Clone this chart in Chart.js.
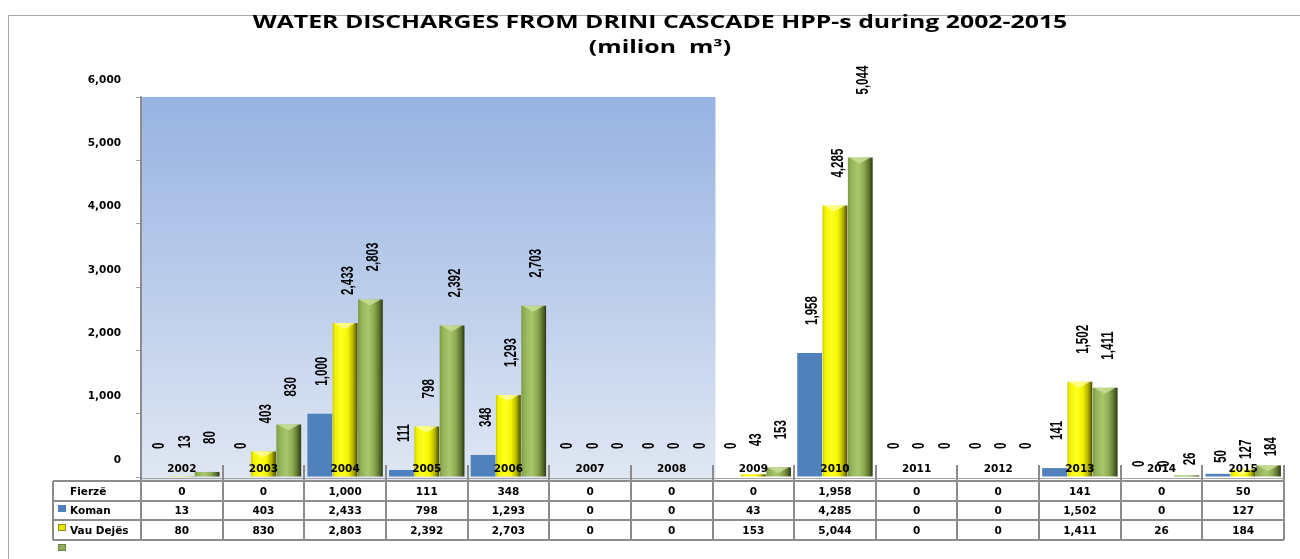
<!DOCTYPE html>
<html>
<head>
<meta charset="utf-8">
<script src="https://cdn.jsdelivr.net/npm/chart.js@4.4.1/dist/chart.umd.min.js"></script>
<style>
  html, body { margin: 0; padding: 0; background: #ffffff; }
  #c { display: block; }
</style>
</head>
<body>
<canvas id="c" width="1300" height="559"></canvas>
<script>
// ---------------- DATA ----------------
const years = ['2002','2003','2004','2005','2006','2007','2008','2009','2010','2011','2012','2013','2014','2015'];
const seriesNames = ['Fierzë', 'Koman', 'Vau Dejës'];
const fierze   = [0, 0, 1000, 111, 348, 0, 0, 0, 1958, 0, 0, 141, 0, 50];
const koman    = [13, 403, 2433, 798, 1293, 0, 0, 43, 4285, 0, 0, 1502, 0, 127];
const vauDejes = [80, 830, 2803, 2392, 2703, 0, 0, 153, 5044, 0, 0, 1411, 26, 184];
const yTicks   = [0, 1000, 2000, 3000, 4000, 5000, 6000];
const titleLines = ['WATER DISCHARGES FROM DRINI CASCADE HPP-s during 2002-2015', '(milion  m\u00B3)'];

// ---------------- STYLE ----------------
const fmt = v => v.toLocaleString('en-US');
const AXIS_FONT = '"DejaVu Sans", Verdana, sans-serif';
const LABEL_FONT = '"Liberation Sans", Arial, sans-serif';
const TITLE_FONT = '"Open Sans", sans-serif';
const BLUE = '#4F81BD';
const gradStops = {
  1: [[0, '#c9c900'], [0.1, '#f2f200'], [0.35, '#ffff22'], [0.62, '#f4f400'], [0.82, '#b3b300'], [1, '#4a4a00']],
  2: [[0, '#7c9a45'], [0.15, '#95b55a'], [0.4, '#a9c76d'], [0.65, '#8eab52'], [0.85, '#5d7430'], [1, '#2c3913']]
};
const capColors = { 1: 'rgba(255,255,170,0.75)', 2: 'rgba(200,222,150,0.85)' };
// manual label nudges (dataset,index) as in the original
const labelShift = { '2,8': -35, '0,12': 18, '1,12': 18, '2,12': 18, '0,13': 17, '1,13': 18, '2,13': 19 };

const backgroundPlugin = {
  id: 'bgFrame',
  beforeDraw(chart) {
    const ctx = chart.ctx, a = chart.chartArea;
    ctx.save();
    ctx.fillStyle = '#ffffff';
    ctx.fillRect(0, 0, chart.width, chart.height);
    // outer frame
    ctx.strokeStyle = '#a6a6a6';
    ctx.lineWidth = 1;
    ctx.beginPath();
    ctx.moveTo(8.5, chart.height);
    ctx.lineTo(8.5, 15.5);
    ctx.lineTo(chart.width, 15.5);
    ctx.stroke();
    // back-wall gradient (covers 2002-2008)
    const step = (a.right - a.left) / years.length;
    const xEnd = a.left + step * 7 + 3;
    const g = ctx.createLinearGradient(0, a.top, 0, a.bottom + 3);
    g.addColorStop(0, '#97b3e2');
    g.addColorStop(1, '#e0e7f3');
    ctx.fillStyle = g;
    ctx.fillRect(a.left, a.top, xEnd - a.left, a.bottom + 3 - a.top);
    // title (horizontally stretched like the original)
    ctx.fillStyle = '#000';
    ctx.font = 'bold 17px ' + TITLE_FONT;
    ctx.textAlign = 'center';
    ctx.textBaseline = 'middle';
    titleLines.forEach((t, i) => {
      ctx.save();
      ctx.translate(chart.width / 2 + 10, 23 + i * 25);
      ctx.scale(1.46, 1);
      ctx.fillText(t, 0, 0);
      ctx.restore();
    });
    ctx.restore();
  }
};

const barStylePlugin = {
  id: 'barStyle',
  beforeDatasetsDraw(chart) {
    const ctx = chart.ctx;
    chart.data.datasets.forEach((ds, di) => {
      const stops = gradStops[di];
      if (!stops) return;
      chart.getDatasetMeta(di).data.forEach(el => {
        const x0 = el.x - el.width / 2, x1 = el.x + el.width / 2;
        const g = ctx.createLinearGradient(x0, 0, x1, 0);
        stops.forEach(([p, c]) => g.addColorStop(p, c));
        el.options = Object.assign({}, el.options, { backgroundColor: g });
      });
    });
  },
  afterDatasetsDraw(chart) {
    const ctx = chart.ctx;
    ctx.save();
    // pyramid-like top caps
    chart.data.datasets.forEach((ds, di) => {
      if (!capColors[di]) return;
      chart.getDatasetMeta(di).data.forEach(el => {
        const h = el.base - el.y;
        if (h < 7) return;
        const x0 = el.x - el.width / 2 + 1, x1 = el.x + el.width / 2 - 2;
        ctx.fillStyle = capColors[di];
        ctx.beginPath();
        ctx.moveTo(x0, el.y);
        ctx.lineTo(x1, el.y);
        ctx.lineTo((x0 + x1) / 2, el.y + 6);
        ctx.closePath();
        ctx.fill();
      });
    });
    // rotated value labels
    ctx.fillStyle = '#000000';
    ctx.font = 'bold 17px ' + LABEL_FONT;
    ctx.textAlign = 'left';
    ctx.textBaseline = 'middle';
    chart.data.datasets.forEach((ds, di) => {
      chart.getDatasetMeta(di).data.forEach((el, i) => {
        const shift = labelShift[di + ',' + i] || 0;
        ctx.save();
        ctx.translate(el.x + 3, el.y - 28 + shift);
        ctx.rotate(-Math.PI / 2);
        ctx.scale(0.68, 1);
        ctx.fillText(fmt(ds.data[i]), 0, 0);
        ctx.restore();
      });
    });
    ctx.restore();
  }
};

const tablePlugin = {
  id: 'dataTable',
  afterDraw(chart) {
    const ctx = chart.ctx, a = chart.chartArea;
    const step = (a.right - a.left) / years.length;
    const rows = [481, 501, 520, 540];
    const tableLeft = 53;
    ctx.save();
    // floor line
    ctx.strokeStyle = '#a6a6a6';
    ctx.lineWidth = 1;
    ctx.beginPath();
    ctx.moveTo(a.left, a.bottom + 1.5);
    ctx.lineTo(a.right, a.bottom + 1.5);
    ctx.stroke();
    // table grid
    ctx.strokeStyle = '#8c8c8c';
    ctx.lineWidth = 2;
    ctx.beginPath();
    rows.forEach(y => { ctx.moveTo(tableLeft, y); ctx.lineTo(a.right, y); });
    ctx.moveTo(tableLeft, rows[0]); ctx.lineTo(tableLeft, rows[3]);
    for (let i = 0; i <= years.length; i++) {
      const x = Math.round(a.left + i * step);
      ctx.moveTo(x, i === 0 ? a.top : 465); ctx.lineTo(x, rows[3]);
    }
    ctx.stroke();
    // values
    const series = [fierze, koman, vauDejes];
    ctx.fillStyle = '#000';
    ctx.font = 'bold 10.5px ' + AXIS_FONT;
    ctx.textBaseline = 'middle';
    ctx.textAlign = 'center';
    series.forEach((arr, r) => {
      const yc = (rows[r] + rows[r + 1]) / 2 + 1;
      arr.forEach((v, i) => {
        const xc = chart.scales.x.getPixelForValue(i);
        ctx.fillText(fmt(v), xc, yc);
      });
    });
    // row headers
    ctx.textAlign = 'left';
    seriesNames.forEach((n, r) => {
      const yc = (rows[r] + rows[r + 1]) / 2 + 1;
      ctx.fillText(n, 70, yc);
    });
    // legend keys (offset one row down, as in the original)
    const keyFill = [BLUE, '#e6e600', '#8fac55'];
    const keyEdge = [BLUE, '#8c8c20', '#6b8040'];
    keyFill.forEach((c, k) => {
      const ky = rows[k + 1] + 4;
      ctx.fillStyle = c;
      ctx.fillRect(58, ky, 8, 7);
      ctx.strokeStyle = keyEdge[k];
      ctx.lineWidth = 1;
      ctx.strokeRect(58.5, ky + 0.5, 7, 6);
    });
    ctx.restore();
  }
};

new Chart(document.getElementById('c'), {
  type: 'bar',
  data: {
    labels: years,
    datasets: [
      { label: seriesNames[0], data: fierze, backgroundColor: BLUE },
      { label: seriesNames[1], data: koman, backgroundColor: '#ffff00' },
      { label: seriesNames[2], data: vauDejes, backgroundColor: '#9bbb59' }
    ]
  },
  options: {
    responsive: false,
    animation: false,
    devicePixelRatio: 1,
    layout: { padding: { left: 0, right: 16, top: 97, bottom: 80 } },
    datasets: { bar: { categoryPercentage: 0.93, barPercentage: 0.98, borderWidth: 0 } },
    plugins: {
      legend: { display: false },
      tooltip: { enabled: false },
      title: { display: false }
    },
    scales: {
      x: {
        position: 'bottom',
        grid: { display: false, drawTicks: false },
        border: { display: false },
        ticks: { z: 1, mirror: true, padding: 1, color: '#000', maxRotation: 0, autoSkip: false,
                 font: { family: AXIS_FONT, size: 10.5, weight: 'bold' } }
      },
      y: {
        min: 0, max: 6000,
        afterBuildTicks: s => { s.ticks = yTicks.map(v => ({ value: v })); },
        afterFit: s => { s.width = 141; },
        grid: { drawOnChartArea: false, tickLength: 5, color: '#a6a6a6', lineWidth: 1 },
        border: { color: '#a6a6a6', width: 2 },
        ticks: { color: '#000', padding: 15, labelOffset: -17, callback: v => fmt(v),
                 font: { family: AXIS_FONT, size: 10.5, weight: 'bold' } }
      }
    }
  },
  plugins: [backgroundPlugin, barStylePlugin, tablePlugin]
});
</script>
</body>
</html>
